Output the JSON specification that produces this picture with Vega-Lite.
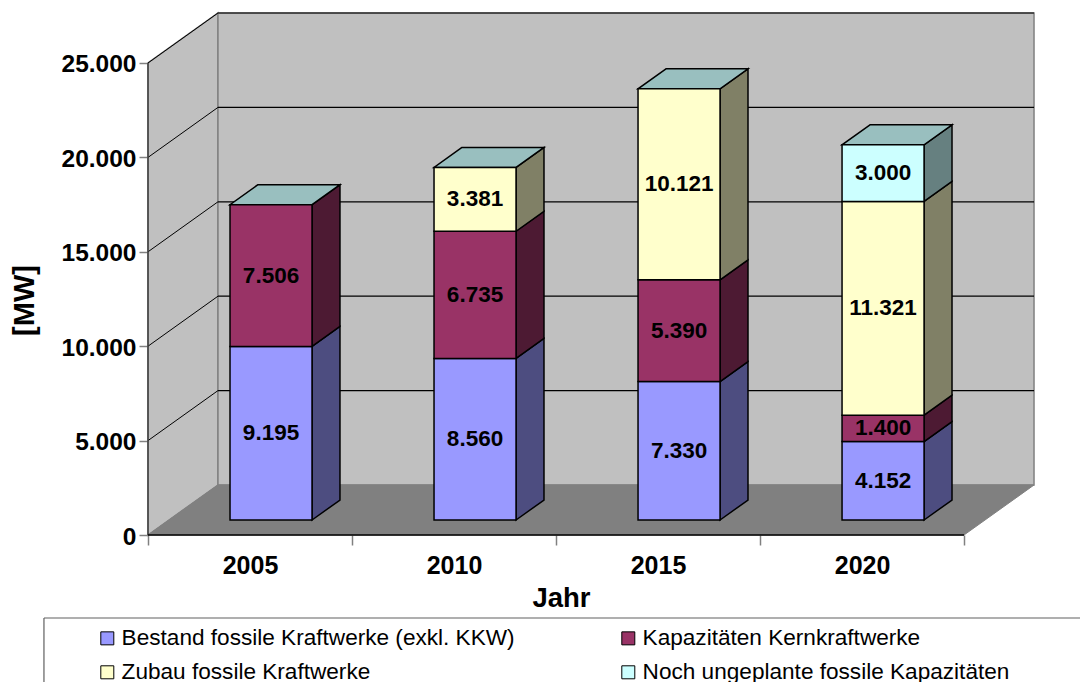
{
"$schema":"https://vega.github.io/schema/vega-lite/v6.json",
"width":885,"height":522,
"autosize":{"type":"none"},
"padding":{"left":148,"top":13,"right":47,"bottom":147},
"background":"white",
"config":{"font":"Liberation Sans","view":{"stroke":null}},
"datasets":{
"werte":[
{"Jahr":2005,"Serie":"Bestand fossile Kraftwerke (exkl. KKW)","MW":9195},
{"Jahr":2005,"Serie":"Kapazitäten Kernkraftwerke","MW":7506},
{"Jahr":2010,"Serie":"Bestand fossile Kraftwerke (exkl. KKW)","MW":8560},
{"Jahr":2010,"Serie":"Kapazitäten Kernkraftwerke","MW":6735},
{"Jahr":2010,"Serie":"Zubau fossile Kraftwerke","MW":3381},
{"Jahr":2015,"Serie":"Bestand fossile Kraftwerke (exkl. KKW)","MW":7330},
{"Jahr":2015,"Serie":"Kapazitäten Kernkraftwerke","MW":5390},
{"Jahr":2015,"Serie":"Zubau fossile Kraftwerke","MW":10121},
{"Jahr":2020,"Serie":"Bestand fossile Kraftwerke (exkl. KKW)","MW":4152},
{"Jahr":2020,"Serie":"Kapazitäten Kernkraftwerke","MW":1400},
{"Jahr":2020,"Serie":"Zubau fossile Kraftwerke","MW":11321},
{"Jahr":2020,"Serie":"Noch ungeplante fossile Kapazitäten","MW":3000}
],
"tiefe":[{"t":0},{"t":1}],
"raster":[{"v":5000},{"v":10000},{"v":15000},{"v":20000},{"v":25000}],
"eins":[{"n":1}]
},
"resolve":{"scale":{"color":"independent"}},
"layer":[
{"data":{"name":"tiefe"},"transform":[{"calculate":"datum.t*0.343","as":"x"},{"calculate":"datum.t*2648","as":"y"},{"calculate":"25000+datum.t*2648","as":"y2"}],
 "mark":{"type":"area","color":"#C0C0C0","stroke":"#808080","strokeWidth":1.5,"clip":false},
 "encoding":{
  "x":{"field":"x","type":"quantitative","scale":{"domain":[0,4.338],"nice":false,"zero":false},
   "axis":{"title":"Jahr","titleFontSize":27.5,"titleFontWeight":"bold","titleColor":"#000","titleX":413,"titleY":49,
    "domain":false,"grid":false,"values":[0,0.5,1,1.5,2,2.5,3,3.5,4],
    "labelExpr":"datum.value==0.5?'2005':datum.value==1.5?'2010':datum.value==2.5?'2015':datum.value==3.5?'2020':''",
    "labelFontSize":25,"labelFontWeight":"bold","labelColor":"#000","labelPadding":8,"labelAngle":0,"labelOverlap":false,"labelFlush":false,
    "tickSize":10,"tickColor":"#808080","tickWidth":1.5,
    "tickOpacity":{"condition":{"test":"datum.value%1==0","value":1},"value":0}}},
  "y":{"field":"y","type":"quantitative","scale":{"domain":[0,27648],"nice":false,"zero":false},
   "axis":{"title":"[MW]","titleFontSize":29,"titleFontWeight":"bold","titleColor":"#000","titleX":-109,"titleY":287,
    "domain":false,"grid":false,"values":[0,5000,10000,15000,20000,25000],
    "labelExpr":"replace(format(datum.value,','),',','.')",
    "labelFontSize":24.5,"labelFontWeight":"bold","labelColor":"#000","labelPadding":3,"labelOffset":2,
    "tickSize":9,"tickColor":"#808080","tickWidth":1.5}},
  "y2":{"field":"y2"}}},
{"data":{"name":"eins"},"mark":{"type":"rect","color":"#C0C0C0","stroke":"#808080","strokeWidth":1.5},
 "encoding":{"x":{"datum":0.343},"x2":{"datum":4.343},"y":{"datum":2648},"y2":{"datum":27648}}},
{"data":{"name":"tiefe"},"transform":[{"calculate":"datum.t*0.343","as":"x"},{"calculate":"4+datum.t*0.343","as":"x2"},{"calculate":"datum.t*2648","as":"y"}],
 "mark":{"type":"area","orient":"horizontal","color":"#808080","stroke":"#808080","strokeWidth":1},
 "encoding":{"x":{"field":"x","type":"quantitative"},"x2":{"field":"x2"},"y":{"field":"y","type":"quantitative"}}},
{"data":{"name":"raster"},"transform":[{"calculate":"datum.v+2648","as":"vb"}],
 "mark":{"type":"rule","color":"#000","strokeWidth":1.2},
 "encoding":{"x":{"datum":0.343},"x2":{"datum":4.343},"y":{"field":"vb","type":"quantitative"}}},
{"data":{"name":"raster"},"transform":[{"calculate":"datum.v+2648","as":"vb"}],
 "mark":{"type":"rule","color":"#000","strokeWidth":1},
 "encoding":{"x":{"datum":0},"x2":{"datum":0.343},"y":{"field":"v","type":"quantitative"},"y2":{"field":"vb"}}},
{"data":{"name":"eins"},"mark":{"type":"rule","color":"#404040","strokeWidth":1.5},
 "encoding":{"x":{"datum":0},"y":{"datum":0},"y2":{"datum":25000}}},
{"data":{"name":"eins"},"mark":{"type":"rule","color":"#000","strokeWidth":1.5},
 "encoding":{"x":{"datum":0},"x2":{"datum":4},"y":{"datum":0}}},
{"data":{"name":"werte"},
 "transform":[
  {"calculate":"indexof(['Bestand fossile Kraftwerke (exkl. KKW)','Kapazitäten Kernkraftwerke','Zubau fossile Kraftwerke','Noch ungeplante fossile Kapazitäten'],datum.Serie)","as":"rang"},
  {"stack":"MW","groupby":["Jahr"],"sort":[{"field":"rang","order":"ascending"}],"as":["s0","s1"]},
  {"calculate":"datum.Jahr+'-'+datum.rang","as":"id"},
  {"calculate":"(datum.Jahr-2005)/5+0.804","as":"xr"},
  {"calculate":"[0,1]","as":"ts"},{"flatten":["ts"]},
  {"calculate":"datum.xr+datum.ts*0.137","as":"x"},
  {"calculate":"datum.s0+794+datum.ts*1059","as":"y"},
  {"calculate":"datum.s1+794+datum.ts*1059","as":"y2"}],
 "mark":{"type":"area","stroke":"#000","strokeWidth":1.5},
 "encoding":{"x":{"field":"x","type":"quantitative"},"y":{"field":"y","type":"quantitative"},"y2":{"field":"y2"},"detail":{"field":"id"},
  "color":{"field":"Serie","type":"nominal","legend":null,"scale":{"domain":["Bestand fossile Kraftwerke (exkl. KKW)","Kapazitäten Kernkraftwerke","Zubau fossile Kraftwerke","Noch ungeplante fossile Kapazitäten"],"range":["#4D4D80","#4D1A33","#808066","#668080"]}}}},
{"data":{"name":"werte"},
 "transform":[
  {"joinaggregate":[{"op":"sum","field":"MW","as":"gesamt"}],"groupby":["Jahr"]},
  {"calculate":"(datum.Jahr-2005)/5+0.402","as":"xl"},
  {"calculate":"[0,1]","as":"ts"},{"flatten":["ts"]},
  {"calculate":"datum.xl+datum.ts*0.137","as":"x"},
  {"calculate":"datum.xl+0.402+datum.ts*0.137","as":"x2"},
  {"calculate":"datum.gesamt+794+datum.ts*1059","as":"y"}],
 "mark":{"type":"area","orient":"horizontal","color":"#99BFBF","stroke":"#000","strokeWidth":1.5},
 "encoding":{"x":{"field":"x","type":"quantitative"},"x2":{"field":"x2"},"y":{"field":"y","type":"quantitative"},"detail":{"field":"Jahr"}}},
{"data":{"name":"werte"},
 "transform":[
  {"calculate":"indexof(['Bestand fossile Kraftwerke (exkl. KKW)','Kapazitäten Kernkraftwerke','Zubau fossile Kraftwerke','Noch ungeplante fossile Kapazitäten'],datum.Serie)","as":"rang"},
  {"stack":"MW","groupby":["Jahr"],"sort":[{"field":"rang","order":"ascending"}],"as":["s0","s1"]},
  {"calculate":"(datum.Jahr-2005)/5+0.402","as":"xl"},
  {"calculate":"datum.xl+0.402","as":"xr"},
  {"calculate":"datum.s0+794","as":"yb"},
  {"calculate":"datum.s1+794","as":"yt"}],
 "mark":{"type":"rect","stroke":"#000","strokeWidth":1.5},
 "encoding":{"x":{"field":"xl","type":"quantitative"},"x2":{"field":"xr"},"y":{"field":"yb","type":"quantitative"},"y2":{"field":"yt"},
  "color":{"field":"Serie","type":"nominal","title":null,
   "scale":{"domain":["Bestand fossile Kraftwerke (exkl. KKW)","Kapazitäten Kernkraftwerke","Zubau fossile Kraftwerke","Noch ungeplante fossile Kapazitäten"],"range":["#9999FF","#993366","#FFFFCC","#CCFFFF"]},
   "legend":{"orient":"none","legendX":-52,"legendY":614,"direction":"horizontal","columns":2,"symbolType":"square","symbolSize":169,"symbolStrokeColor":"#000","symbolStrokeWidth":1,"symbolOpacity":1,"labelFontSize":22.6,"labelColor":"#000","labelOffset":3,"labelLimit":500,"rowPadding":11,"columnPadding":102,"padding":0,"gridAlign":"each"}}}},
{"data":{"name":"werte"},
 "transform":[
  {"calculate":"indexof(['Bestand fossile Kraftwerke (exkl. KKW)','Kapazitäten Kernkraftwerke','Zubau fossile Kraftwerke','Noch ungeplante fossile Kapazitäten'],datum.Serie)","as":"rang"},
  {"stack":"MW","groupby":["Jahr"],"sort":[{"field":"rang","order":"ascending"}],"as":["s0","s1"]},
  {"calculate":"(datum.Jahr-2005)/5+0.603","as":"xm"},
  {"calculate":"(datum.s0+datum.s1)/2+794","as":"ym"},
  {"calculate":"replace(format(datum.MW,','),',','.')","as":"txt"}],
 "mark":{"type":"text","fontSize":22.5,"fontWeight":"bold","color":"#000","align":"center","baseline":"middle"},
 "encoding":{"x":{"field":"xm","type":"quantitative"},"y":{"field":"ym","type":"quantitative"},"text":{"field":"txt"}}},
{"data":{"name":"eins"},"mark":{"type":"rule","color":"#606060","strokeWidth":1.2,"clip":false},
 "encoding":{"x":{"datum":-0.51},"x2":{"datum":4.57},"y":{"datum":-4396}}},
{"data":{"name":"eins"},"mark":{"type":"rule","color":"#606060","strokeWidth":1.2,"clip":false},
 "encoding":{"x":{"datum":-0.51},"y":{"datum":-4396},"y2":{"datum":-7780}}}
]
}
